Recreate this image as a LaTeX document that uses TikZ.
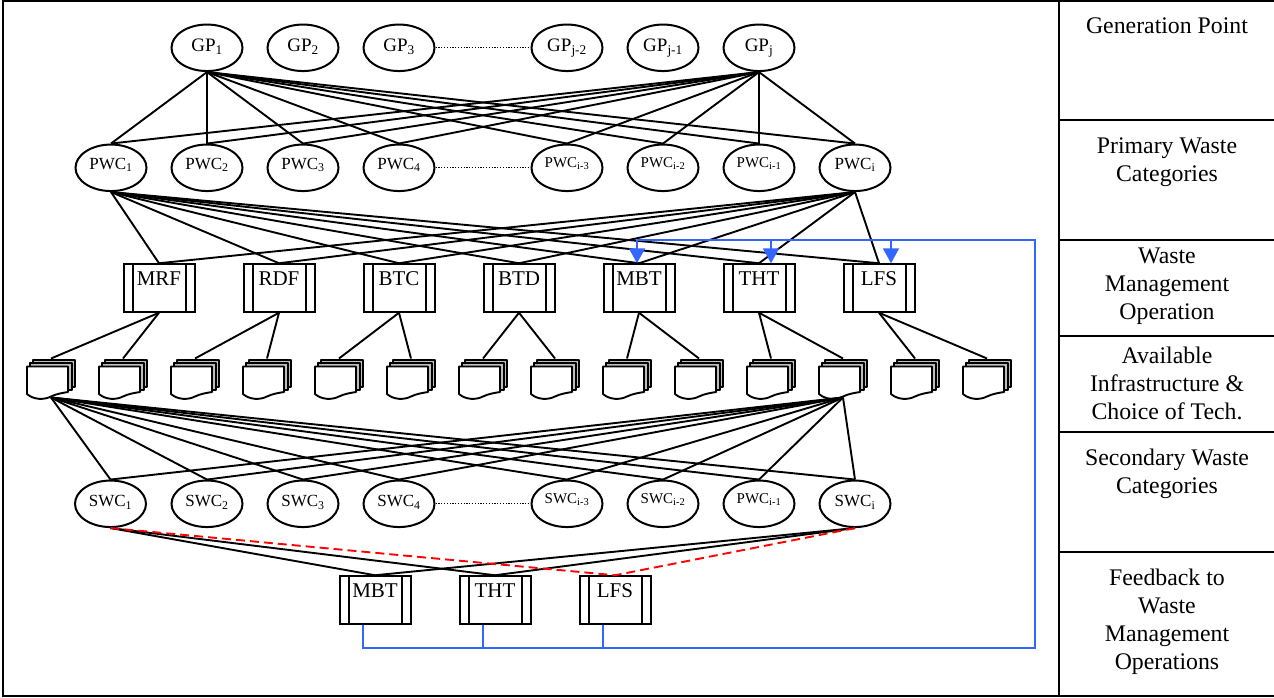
\documentclass[tikz,border=0pt]{standalone}
\usepackage{fontspec}
\setmainfont{Liberation Serif}
\usetikzlibrary{shapes.geometric,arrows.meta}
\definecolor{bluelink}{HTML}{3366FF}
\definecolor{sheetgray}{gray}{0.74}
\newcommand{\sub}[1]{\textsubscript{#1}}
\tikzset{
  x=1pt,y=-1pt,
  every path/.style={line width=2pt},
  oval/.style={ellipse,draw,line width=2pt,inner sep=0pt,minimum width=71pt,minimum height=46.5pt},
  ovalgp/.style={oval,font=\fontsize{19}{20}\selectfont,text height=14pt,text depth=6pt},
  ovalpwc/.style={oval,font=\fontsize{17}{20}\selectfont,text height=12pt,text depth=9pt},
  ovalswc/.style={oval,font=\fontsize{17}{20}\selectfont,text height=13pt,text depth=7pt},
  ovalsmall/.style={oval,font=\fontsize{15}{20}\selectfont,text height=10.5pt,text depth=11.5pt},
  procbox/.style={rectangle,draw,line width=2pt,inner sep=0pt,minimum width=71pt,
    font=\fontsize{21}{22}\selectfont,text height=21pt,text depth=26.5pt,
    path picture={
      \draw[line width=2pt] ([xshift=9pt]path picture bounding box.north west) -- ([xshift=9pt]path picture bounding box.south west);
      \draw[line width=2pt] ([xshift=-9pt]path picture bounding box.north east) -- ([xshift=-9pt]path picture bounding box.south east);
    }},
  docanchor/.style={rectangle,inner sep=0pt,minimum width=48pt,minimum height=37pt},
  link/.style={black,line width=1.9pt},
  rowlabel/.style={anchor=north,inner sep=0pt,align=center,font=\fontsize{23.8}{28}\selectfont},
  dots/.style={line width=1.2pt,dash pattern=on 1.3pt off 1.5pt},
  redlink/.style={red,line width=1.9pt,dash pattern=on 9pt off 5pt},
  bluepath/.style={bluelink,line width=1.9pt},
  bluearrow/.style={bluelink,line width=1.9pt,-{Triangle[width=16pt,length=15pt]},shorten >=0pt},
  frameline/.style={black,line width=2.2pt},
  backsheet/.style={fill=sheetgray,line join=round,line width=1.6pt},
  frontsheet/.style={fill=white,line join=round,line width=1.9pt}
}
\newcommand{\docstack}[2]{%
  \node[docanchor] (#1) at (#2,378) {};
  \begin{scope}[shift={(#2,378)}]
    \draw[backsheet] (-18,-18) -- (24,-18) -- (24,9) -- (-18,9) -- cycle;
    \draw[backsheet] (-21,-15) -- (21,-15) -- (21,12) -- (-21,12) -- cycle;
    \draw[frontsheet] (-24,-11.5) -- (17,-11.5) -- (17,14)
      .. controls (11,15) and (5,16) .. (0,18.5)
      .. controls (-7,22) and (-17,22) .. (-24,16) -- cycle;
  \end{scope}}
\begin{document}
\begin{tikzpicture}
\useasboundingbox (0,0) rectangle (1274,698);
% frame
\draw[frameline] (1274,0.8) -- (2.8,0.8) -- (2.8,696) -- (1274,696);
\draw[frameline] (1059,0.8) -- (1059,696);
\foreach \yy in {120,240,336,432,552} \draw[frameline] (1059,\yy) -- (1274,\yy);
% row labels
\node[rowlabel] (r1) at (1167,13.4) {\strut Generation Point};
\node[rowlabel] (r2) at (1167,132.5) {\strut Primary Waste\\Categories};
\node[rowlabel] (r3) at (1167,242.5) {\strut Waste\\Management\\Operation};
\node[rowlabel] (r4) at (1167,343) {\strut Available\\Infrastructure \&\\Choice of Tech.};
\node[rowlabel] (r5) at (1167,444.5) {\strut Secondary Waste\\Categories};
\node[rowlabel] (r6) at (1167,564.5) {\strut Feedback to\\Waste\\Management\\Operations};
% generation points
\node[ovalgp] (g1) at (207,47.8) {GP\sub{1}};
\node[ovalgp] (g2) at (303,47.8) {GP\sub{2}};
\node[ovalgp] (g3) at (399,47.8) {GP\sub{3}};
\node[ovalgp] (g4) at (567,47.8) {GP\sub{j-2}};
\node[ovalgp] (g5) at (663,47.8) {GP\sub{j-1}};
\node[ovalgp] (g6) at (759,47.8) {GP\sub{j}};
% primary categories
\node[ovalpwc] (p1) at (111,167.8) {PWC\sub{1}};
\node[ovalpwc] (p2) at (207,167.8) {PWC\sub{2}};
\node[ovalpwc] (p3) at (303,167.8) {PWC\sub{3}};
\node[ovalpwc] (p4) at (399,167.8) {PWC\sub{4}};
\node[ovalsmall] (p5) at (567,167.8) {PWC\sub{i-3}};
\node[ovalsmall] (p6) at (663,167.8) {PWC\sub{i-2}};
\node[ovalsmall] (p7) at (759,167.8) {PWC\sub{i-1}};
\node[ovalpwc] (p8) at (855,167.8) {PWC\sub{i}};
% operations
\foreach \n/\xx/\t in {1/159/MRF,2/279/RDF,3/399/BTC,4/519/BTD,5/639/MBT,6/759/THT,7/879/LFS}
  \node[procbox] (b\n) at (\xx,288) {\t};
% documents
\foreach \n/\xx in {1/51,2/123,3/195,4/267,5/339,6/411,7/483,8/555,9/627,10/699,11/771,12/843,13/915,14/987}
  {\docstack{d\n}{\xx}}
% secondary categories
\node[ovalswc] (s1) at (110.5,503.8) {SWC\sub{1}};
\node[ovalswc] (s2) at (207,503.8) {SWC\sub{2}};
\node[ovalswc] (s3) at (303,503.8) {SWC\sub{3}};
\node[ovalswc] (s4) at (399,503.8) {SWC\sub{4}};
\node[ovalsmall] (s5) at (567,503.8) {SWC\sub{i-3}};
\node[ovalsmall] (s6) at (663,503.8) {SWC\sub{i-2}};
\node[ovalsmall] (s7) at (759,503.8) {PWC\sub{i-1}};
\node[ovalswc] (s8) at (855,503.8) {SWC\sub{i}};
% feedback operations
\node[procbox] (f1) at (375,600) {MBT};
\node[procbox] (f2) at (495,600) {THT};
\node[procbox] (f3) at (615,600) {LFS};
% connectors
\foreach \i in {1,...,8} {
  \draw[link] (g1.south) -- (p\i.north);
  \draw[link] (g6.south) -- (p\i.north);
  \draw[link] (d1.south) -- (s\i.north);
  \draw[link] (d12.south) -- (s\i.north);
}
\foreach \i in {1,...,7} {
  \draw[link] (p1.south) -- (b\i.north);
  \draw[link] (p8.south) -- (b\i.north);
}
\foreach \b/\da/\db in {1/1/2,2/3/4,3/5/6,4/7/8,5/9/10,6/11/12,7/13/14} {
  \draw[link] (b\b.south) -- (d\da.north);
  \draw[link] (b\b.south) -- (d\db.north);
}
\draw[dots] (g3.east) -- (g4.west);
\draw[dots] (p4.east) -- (p5.west);
\draw[dots] (s4.east) -- (s5.west);
\draw[link] (s1.south) -- (f1.north);
\draw[link] (s1.south) -- (f2.north);
\draw[link] (s8.south) -- (f1.north);
\draw[link] (s8.south) -- (f2.north);
\draw[redlink] (s1.south) -- (f3.north);
\draw[redlink] (s8.south) -- (f3.north);
% feedback loop
\coordinate (busR) at (1035,648);
\coordinate (busT) at (1035,240);
\coordinate (busM) at ([xshift=-2pt]b5.north |- busT);
\coordinate (busH) at ([xshift=12pt]b6.north |- busT);
\coordinate (busL) at ([xshift=12pt]b7.north |- busT);
\draw[bluepath] ([xshift=-12pt]f1.south) |- (busR) -- (busT) -- (busM);
\draw[bluepath] ([xshift=-12pt]f2.south) -- ([xshift=-12pt]f2.south |- busR);
\draw[bluepath] ([xshift=-12pt]f3.south) -- ([xshift=-12pt]f3.south |- busR);
\draw[bluearrow] (busM) -- ([xshift=-2pt]b5.north);
\draw[bluearrow] (busH) -- ([xshift=12pt]b6.north);
\draw[bluearrow] (busL) -- ([xshift=12pt]b7.north);
\end{tikzpicture}
\end{document}
